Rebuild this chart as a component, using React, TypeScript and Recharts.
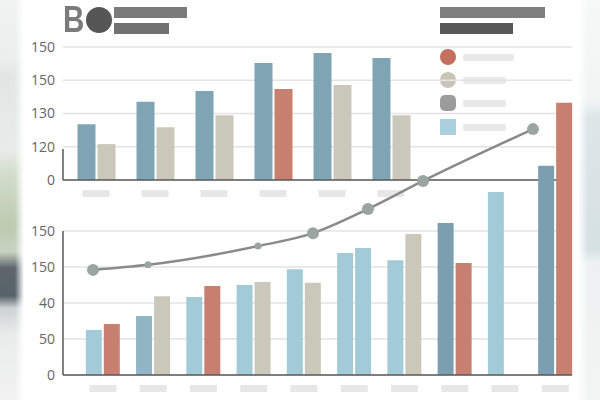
import {
  Bar,
  BarChart,
  CartesianGrid,
  Cell,
  Line,
  LineChart,
  XAxis,
  YAxis,
} from "recharts";

// Upper panel: six groups, two bars each (values in grid steps)
const topCategories = ["T1", "T2", "T3", "T4", "T5", "T6"];
const topPrimary = [1.68, 2.35, 2.68, 3.52, 3.82, 3.67];
const topSecondary = [1.08, 1.59, 1.95, 2.74, 2.86, 1.95];
const topTickLabels = ["0", "120", "130", "150", "150"];

// Lower panel: ten groups
const bottomCategories = ["B1", "B2", "B3", "B4", "B5", "B6", "B7", "B8", "B9", "B10"];
const bottomPrimary = [1.25, 1.64, 2.17, 2.5, 2.94, 3.39, 3.19, 4.22, 5.08, 5.81];
const bottomSecondary = [1.42, 2.19, 2.47, 2.58, 2.56, 3.53, 3.92, 3.11, null, 7.56];
const bottomTickLabels = ["0", "50", "40", "150", "150"];

// Trend line drawn across both panels
const trendSlots = ["L1", "L2", "L3", "L4", "L5", "L6", "L7", "L8", "L9"];
const trendValues = [2.92, 3.06, null, 3.58, 3.94, 4.61, 5.39, null, 6.83];

const GRID_STEPS = [0, 1, 2, 3, 4];

const STEEL = "#7fa5b5";
const DEEP = "#7b9fae";
const MIST = "#90b6c6";
const SKY = "#a3cbd7";
const BEIGE = "#c9c8bb";
const RUST = "#c77f6f";
const GRID = "#e3e3e3";
const AXIS = "#5a5a5a";
const TICK = { fill: "#666", fontSize: 14, fontFamily: "Open Sans" };

const TOP_SECONDARY_FILLS = [BEIGE, BEIGE, BEIGE, RUST, BEIGE, BEIGE];
const BOTTOM_PRIMARY_FILLS = [SKY, MIST, SKY, SKY, SKY, SKY, SKY, DEEP, SKY, DEEP];
const BOTTOM_SECONDARY_FILLS = [RUST, BEIGE, RUST, BEIGE, BEIGE, SKY, BEIGE, RUST, SKY, RUST];
const SMALL_DOTS = new Set([1, 3]);

const topData = topCategories.map((name, i) => ({
  name,
  a: topPrimary[i],
  b: topSecondary[i],
}));

const bottomData = bottomCategories.map((name, i) => ({
  name,
  a: bottomPrimary[i],
  b: bottomSecondary[i],
}));

const trendData = trendSlots.map((slot, i) => ({ slot, v: trendValues[i] }));

function PlaceholderTick(props: any) {
  const { x, y } = props;
  return <rect x={x - 13.5} y={y} width={27} height={7} fill="#e7e7e7" />;
}

function TrendDot(props: any) {
  const { cx, cy, index } = props;
  if (cx == null || cy == null) return <g key={`d${index}`} />;
  const r = SMALL_DOTS.has(index) ? 3.5 : 6;
  return <circle key={`d${index}`} cx={cx} cy={cy} r={r} fill="#9aa5a2" />;
}

const abs = { position: "absolute" as const, left: 0, top: 0 };

function Backdrop() {
  return (
    <>
      <div
        style={{
          ...abs,
          width: 30,
          height: 400,
          background:
            "linear-gradient(to bottom, #f1f3f2 0px, #eceeed 60px, #e1e6e5 75px, #e8ebea 150px, #d3dccb 175px, #bccbb1 225px, #c8d2c2 252px, #5c666b 268px, #58626a 296px, #cdd2d2 308px, #eaeceb 335px, #f1f2f1 400px)",
          WebkitMaskImage: "linear-gradient(to right, black 0px, black 15px, transparent 24px)",
          maskImage: "linear-gradient(to right, black 0px, black 15px, transparent 24px)",
        }}
      />
      <div
        style={{
          ...abs,
          left: 570,
          width: 30,
          height: 400,
          background:
            "linear-gradient(to bottom, #f7f8f8 0px, #f2f4f4 100px, #dde5e7 118px, #d6e1e4 250px, #eef1f1 262px, #f3f4f4 400px)",
          WebkitMaskImage: "linear-gradient(to left, black 0px, black 12px, transparent 22px)",
          maskImage: "linear-gradient(to left, black 0px, black 12px, transparent 22px)",
        }}
      />
    </>
  );
}

function Header() {
  const bar = (left: number, top: number, width: number, color: string) => (
    <div style={{ ...abs, left, top, width, height: 11, background: color }} />
  );
  const legendText = (top: number, width: number) => (
    <div style={{ ...abs, left: 463, top, width, height: 7, background: "#e9e9e9", borderRadius: 2 }} />
  );
  return (
    <>
      <div
        style={{
          ...abs,
          left: 63,
          top: 0,
          fontFamily: "Liberation Sans",
          fontWeight: 700,
          fontSize: 36,
          lineHeight: "40px",
          color: "#7b7b7b",
          transform: "scaleX(0.82)",
          transformOrigin: "left center",
        }}
      >
        B
      </div>
      <div
        style={{
          ...abs,
          left: 86,
          top: 7,
          width: 26,
          height: 26,
          borderRadius: "50%",
          background: "#565656",
          color: "#565656",
          fontFamily: "Liberation Sans",
          fontWeight: 700,
          fontSize: 22,
          lineHeight: "26px",
          textAlign: "center",
        }}
      >
        O
      </div>
      {bar(114, 7, 73, "#7b7b7b")}
      {bar(114, 23, 55, "#717171")}
      {bar(440, 7, 105, "#7e7e7e")}
      {bar(440, 23, 73, "#585858")}

      <div style={{ ...abs, left: 440, top: 49, width: 16, height: 16, borderRadius: "50%", background: "#c5705f" }} />
      {legendText(54, 51)}
      <div style={{ ...abs, left: 440, top: 72, width: 16, height: 16, borderRadius: "50%", background: "#c6c6b6" }} />
      {legendText(77, 43)}
      <div style={{ ...abs, left: 440, top: 95, width: 16, height: 16, borderRadius: 5, background: "#9b9b9b" }} />
      {legendText(100, 43)}
      <div style={{ ...abs, left: 440, top: 119, width: 16, height: 16, background: "#a9d0dc" }} />
      {legendText(124, 43)}
    </>
  );
}

export default function App() {
  return (
    <div
      style={{
        position: "absolute",
        left: 0,
        top: 0,
        width: 600,
        height: 400,
        overflow: "hidden",
        background: "#ffffff",
      }}
    >
      <Backdrop />
      <Header />

      <div style={abs}>
        <BarChart
          width={600}
          height={400}
          data={topData}
          margin={{ top: 47, right: 28, bottom: 190, left: 13 }}
          barSize={18}
          barGap={2}
        >
          <CartesianGrid vertical={false} horizontalValues={GRID_STEPS} stroke={GRID} strokeWidth={1.5} />
          <XAxis
            dataKey="name"
            height={30}
            padding={{ left: 3.5, right: 151.5 }}
            axisLine={{ stroke: AXIS, strokeWidth: 1.5 }}
            tickLine={false}
            tickSize={6}
            tickMargin={4}
            tick={<PlaceholderTick />}
          />
          <YAxis
            width={50}
            domain={[0, 4]}
            ticks={GRID_STEPS}
            tickFormatter={(v: number) => topTickLabels[v]}
            axisLine={{ stroke: AXIS, strokeWidth: 1.5, strokeDasharray: "0 102 31" }}
            tickLine={false}
            tickSize={0}
            tickMargin={8}
            tick={TICK}
          />
          <Bar dataKey="a" fill={STEEL} isAnimationActive={false} />
          <Bar dataKey="b" isAnimationActive={false}>
            {topData.map((d, i) => (
              <Cell key={d.name} fill={TOP_SECONDARY_FILLS[i]} />
            ))}
          </Bar>
        </BarChart>
      </div>

      <div style={abs}>
        <BarChart
          width={600}
          height={400}
          data={bottomData}
          margin={{ top: 87, right: 28, bottom: 5, left: 13 }}
          barSize={16}
          barGap={2}
        >
          <CartesianGrid vertical={false} horizontalValues={GRID_STEPS} stroke={GRID} strokeWidth={1.5} />
          <XAxis
            dataKey="name"
            height={20}
            padding={{ left: 14.8, right: -8.4 }}
            axisLine={{ stroke: AXIS, strokeWidth: 1.5 }}
            tickLine={false}
            tickSize={6}
            tickMargin={4}
            tick={<PlaceholderTick />}
          />
          <YAxis
            width={50}
            domain={[0, 8]}
            ticks={GRID_STEPS}
            tickFormatter={(v: number) => bottomTickLabels[v]}
            axisLine={{ stroke: AXIS, strokeWidth: 1.5, strokeDasharray: "0 144 144" }}
            tickLine={false}
            tickSize={0}
            tickMargin={8}
            tick={TICK}
          />
          <Bar dataKey="a" isAnimationActive={false}>
            {bottomData.map((d, i) => (
              <Cell key={d.name} fill={BOTTOM_PRIMARY_FILLS[i]} />
            ))}
          </Bar>
          <Bar dataKey="b" isAnimationActive={false}>
            {bottomData.map((d, i) => (
              <Cell key={d.name} fill={BOTTOM_SECONDARY_FILLS[i]} />
            ))}
          </Bar>
        </BarChart>
      </div>

      <div style={abs}>
        <LineChart
          width={600}
          height={400}
          data={trendData}
          margin={{ top: 87, right: 67, bottom: 25, left: 93 }}
        >
          <XAxis dataKey="slot" hide />
          <YAxis domain={[0, 8]} hide />
          <Line
            type="monotone"
            dataKey="v"
            stroke="#8a8a8a"
            strokeWidth={2.5}
            connectNulls
            dot={<TrendDot />}
            activeDot={false}
            isAnimationActive={false}
          />
        </LineChart>
      </div>
    </div>
  );
}
